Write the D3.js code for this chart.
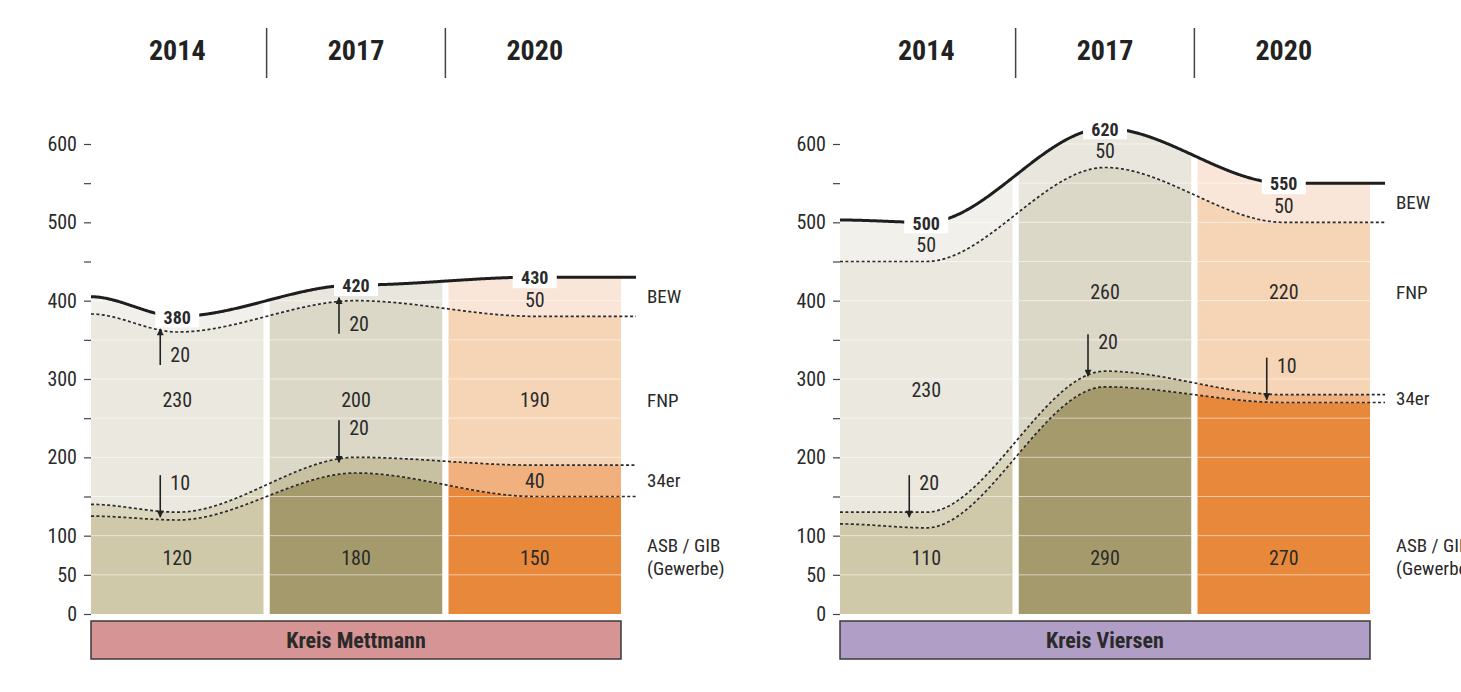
<!DOCTYPE html>
<html><head><meta charset="utf-8">
<script src="https://cdn.jsdelivr.net/npm/d3@7"></script>
<style>body{margin:0;background:#fff}svg{display:block}</style>
</head><body>
<svg id="chart" width="1461" height="692"></svg>
<script>
// ---------- DATA ----------
const years = ["2014", "2017", "2020"];
const layerLabels = ["BEW", "FNP", "34er", "ASB / GIB", "(Gewerbe)"];
const yTicks = [0, 50, 100, 150, 200, 250, 300, 350, 400, 450, 500, 550, 600];
const yTickLabels = [0, 50, 100, 200, 300, 400, 500, 600];

// Kreis Mettmann
const mettmannTotal = [380, 420, 430];
const mettmannASB   = [120, 180, 150];
const mettmann34er  = [10, 20, 40];
const mettmannFNP   = [230, 200, 190];
const mettmannBEW   = [20, 20, 50];
// boundary values where the curves start at the left edge: ASB top, 34er top, BEW bottom, total
const mettmannStart = [125, 140, 383, 405];

// Kreis Viersen
const viersenTotal = [500, 620, 550];
const viersenASB   = [110, 290, 270];
const viersen34er  = [20, 20, 10];
const viersenFNP   = [230, 260, 220];
const viersenBEW   = [50, 50, 50];
const viersenStart = [115, 130, 450, 503];

// ---------- STYLE ----------
const NARROW = "'Liberation Sans Narrow','Arial Narrow','Roboto Condensed',sans-serif";
const palettes = [
  {asb: "#cfc9a9", er: "#dad5bd", fnp: "#ebe8df", bew: "#f2f0ea"},
  {asb: "#a59a6c", er: "#c7c1a2", fnp: "#dcd8c8", bew: "#e9e6dd"},
  {asb: "#e8883b", er: "#f0b17f", fnp: "#f6d5b6", bew: "#fae6d9"}
];

const svg = d3.select("#chart");
const defs = svg.append("defs");
defs.append("marker").attr("id", "arrow").attr("viewBox", "0 0 10 10")
  .attr("refX", 9).attr("refY", 5).attr("markerWidth", 10).attr("markerHeight", 7)
  .attr("markerUnits", "userSpaceOnUse").attr("orient", "auto")
  .append("path").attr("d", "M0,0 L10,5 L0,10 Z").attr("fill", "#222");

const y = d3.scaleLinear().domain([0, 600]).range([614, 144]);

function smooth(t) { return t * t * (3 - 2 * t); }

function drawPanel(cfg, idx) {
  const {x0, x1, name, boxColor, total, asb, er, fnp, bew, start} = cfg;
  const xEnd = x1 + 15;
  const band = d3.scaleBand().domain(years).range([x0, x1]).paddingInner(0.035);
  const centers = years.map(yr => band(yr) + band.bandwidth() / 2);
  const g = svg.append("g");

  // boundaries
  const asbTop = asb;
  const erTop = asb.map((v, i) => v + er[i]);
  const bewBot = total.map((v, i) => v - bew[i]);
  const boundaries = [asbTop, erTop, bewBot, total];

  const knotsX = [x0, ...centers];
  function curveVal(vals, s, x) {
    const kv = [s, ...vals];
    if (x >= knotsX[3]) return kv[3];
    for (let k = 0; k < 3; k++) {
      if (x <= knotsX[k + 1]) {
        const t = (x - knotsX[k]) / (knotsX[k + 1] - knotsX[k]);
        return kv[k] + (kv[k + 1] - kv[k]) * smooth(Math.max(0, t));
      }
    }
    return kv[3];
  }
  const xs = d3.range(x0, xEnd + 0.5, 1);
  const pts = xs.map(x => ({
    x,
    b: boundaries.map((vals, j) => curveVal(vals, start[j], x))
  }));

  // column fills
  years.forEach((yr, i) => {
    const cid = `clip${idx}_${i}`;
    defs.append("clipPath").attr("id", cid).append("rect")
      .attr("x", band(yr)).attr("y", y(600) - 40).attr("width", band.bandwidth())
      .attr("height", y(0) - y(600) + 40);
    const cg = g.append("g").attr("clip-path", `url(#${cid})`);
    const pal = palettes[i];
    const layerDefs = [
      {lo: () => 0, hi: p => p.b[0], c: pal.asb},
      {lo: p => p.b[0], hi: p => p.b[1], c: pal.er},
      {lo: p => p.b[1], hi: p => p.b[2], c: pal.fnp},
      {lo: p => p.b[2], hi: p => p.b[3], c: pal.bew}
    ];
    layerDefs.forEach(L => {
      cg.append("path")
        .attr("d", d3.area().x(p => p.x).y0(p => y(L.lo(p))).y1(p => y(L.hi(p)))(pts))
        .attr("fill", L.c);
    });
    // light grid lines within the column
    cg.selectAll("line.grid").data(yTicks.filter(v => v > 0)).enter().append("line")
      .attr("x1", band(yr)).attr("x2", band(yr) + band.bandwidth())
      .attr("y1", d => y(d)).attr("y2", d => y(d))
      .attr("stroke", "#fff").attr("stroke-opacity", 0.55).attr("stroke-width", 1);
    // mask area above total curve
    cg.append("path")
      .attr("d", d3.area().x(p => p.x).y0(y(600) - 40).y1(p => y(p.b[3]))(pts))
      .attr("fill", "#fff");
  });

  // dashed boundaries
  [0, 1, 2].forEach(j => {
    g.append("path")
      .attr("d", d3.line().x(p => p.x).y(p => y(p.b[j]))(pts))
      .attr("fill", "none").attr("stroke", "#2a2a2a").attr("stroke-width", 1.7)
      .attr("stroke-dasharray", "3,2.4");
  });
  // top solid line
  g.append("path")
    .attr("d", d3.line().x(p => p.x).y(p => y(p.b[3]))(pts))
    .attr("fill", "none").attr("stroke", "#1e1e1e").attr("stroke-width", 3);

  // axis
  const axis = d3.axisLeft(y).tickValues(yTicks).tickSize(7).tickPadding(7)
    .tickFormat(d => yTickLabels.includes(d) ? d : "");
  const ag = svg.append("g").attr("transform", `translate(${x0},0)`).call(axis);
  ag.select(".domain").remove();
  ag.selectAll(".tick line").attr("stroke", "#444").attr("stroke-width", 1.2);
  ag.selectAll(".tick text").attr("font-family", NARROW).attr("font-size", 20)
    .attr("fill", "#2a2a2a");

  // year headers
  years.forEach((yr, i) => {
    svg.append("text").attr("x", centers[i]).attr("y", 50).attr("dy", "0.35em")
      .attr("text-anchor", "middle").attr("font-family", NARROW).attr("font-weight", "bold")
      .attr("font-size", 28).attr("fill", "#222").text(yr);
    if (i < years.length - 1) {
      const sx = band(yr) + band.bandwidth() + (band.step() - band.bandwidth()) / 2;
      svg.append("line").attr("x1", sx).attr("x2", sx).attr("y1", 28).attr("y2", 78)
        .attr("stroke", "#444").attr("stroke-width", 1.5);
    }
  });

  const txt = (x, yy, s, opts = {}) => svg.append("text").attr("x", x).attr("y", yy)
    .attr("dy", "0.35em").attr("text-anchor", opts.anchor || "middle")
    .attr("font-family", NARROW).attr("font-size", opts.size || 20)
    .attr("font-weight", opts.bold ? "bold" : "normal").attr("fill", "#2a2a2a").text(s);
  const arrow = (x, yFrom, yTo) => svg.append("line").attr("x1", x).attr("x2", x)
    .attr("y1", yFrom).attr("y2", yTo).attr("stroke", "#222").attr("stroke-width", 1.6)
    .attr("marker-end", "url(#arrow)");

  // FNP label positions: columns with similar band centres share a common height
  const fnpMid = years.map((_, i) => (erTop[i] + bewBot[i]) / 2);
  const fnpLabelVal = fnpMid.map(m => d3.mean(fnpMid.filter(o => Math.abs(o - m) <= 60)));

  const labelY = {};
  years.forEach((yr, i) => {
    const cx = centers[i];
    // ASB
    txt(cx, y(72), asb[i]);
    labelY.asb = y(72);
    // 34er
    if (er[i] <= 20) {
      const tip = y(erTop[i]) + 5;
      arrow(cx - 17, tip - 42, tip);
      txt(cx + 3, tip - 34, er[i]);
    } else {
      txt(cx, y((asbTop[i] + erTop[i]) / 2), er[i]);
    }
    if (i === 2) labelY.er = y((asbTop[i] + erTop[i]) / 2);
    // FNP
    txt(cx, y(fnpLabelVal[i]) + 3, fnp[i]);
    if (i === 2) labelY.fnp = y(fnpLabelVal[i]) + 3;
    // BEW
    if (bew[i] <= 20) {
      const tip = y(bewBot[i]) - 3;
      arrow(cx - 17, tip + 36, tip);
      txt(cx + 3, tip + 26, bew[i]);
    } else {
      txt(cx, y((bewBot[i] + total[i]) / 2) + 3, bew[i]);
    }
    if (i === 2) labelY.bew = y((bewBot[i] + total[i]) / 2);
    // total label with white box
    const ty = y(total[i]);
    svg.append("rect").attr("x", cx - 22).attr("y", ty - 11).attr("width", 44).attr("height", 22)
      .attr("fill", "#fff");
    txt(cx, ty + 1, total[i], {bold: true, size: 18});
  });

  // layer labels on the right
  const lx = x1 + 26;
  txt(lx, labelY.bew, layerLabels[0], {anchor: "start", size: 19});
  txt(lx, labelY.fnp, layerLabels[1], {anchor: "start", size: 19});
  txt(lx, labelY.er, layerLabels[2], {anchor: "start", size: 19});
  txt(lx, labelY.asb - 12, layerLabels[3], {anchor: "start", size: 19});
  txt(lx, labelY.asb + 11, layerLabels[4], {anchor: "start", size: 19});

  // name box
  svg.append("rect").attr("x", x0).attr("y", y(0) + 7).attr("width", x1 - x0).attr("height", 38)
    .attr("fill", boxColor).attr("stroke", "#3a3a3a").attr("stroke-width", 1.5);
  txt((x0 + x1) / 2, y(0) + 26, name, {bold: true, size: 22});
}

drawPanel({x0: 91, x1: 621, name: "Kreis Mettmann", boxColor: "#d69494",
  total: mettmannTotal, asb: mettmannASB, er: mettmann34er, fnp: mettmannFNP, bew: mettmannBEW,
  start: mettmannStart}, 0);
drawPanel({x0: 840, x1: 1370, name: "Kreis Viersen", boxColor: "#b09ec6",
  total: viersenTotal, asb: viersenASB, er: viersen34er, fnp: viersenFNP, bew: viersenBEW,
  start: viersenStart}, 1);
</script>
</body></html>
